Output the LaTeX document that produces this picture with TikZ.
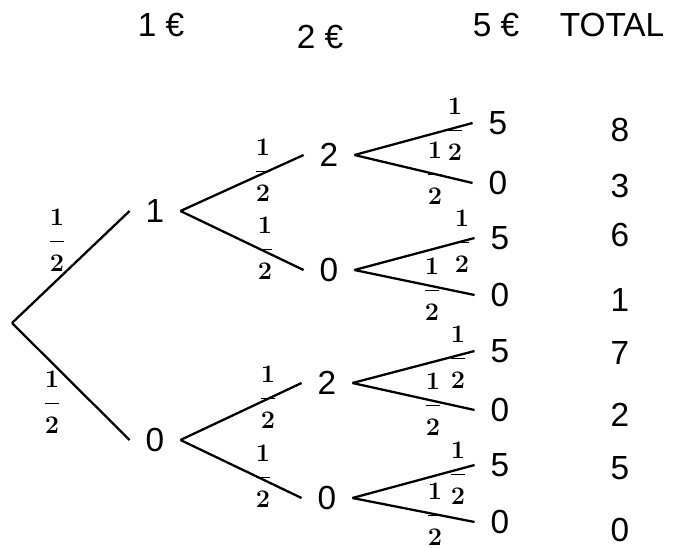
\documentclass[tikz,border=0pt]{standalone}
\usepackage{amsmath}
\usepackage{fontspec}
\setmainfont{Liberation Sans}
\tikzset{
  val/.style={font=\fontsize{19}{22}\selectfont, inner xsep=9pt, inner ysep=2pt},
  head/.style={font=\fontsize{19}{22}\selectfont},
  prob/.style={font=\fontsize{14}{16}\selectfont\boldmath, inner sep=0pt},
  branch/.style={line width=1.3pt}
}
\newcommand{\half}{$\displaystyle\frac{\raisebox{2.3pt}{$1$}}{\raisebox{-2.3pt}{$2$}}$}
\begin{document}
\begin{tikzpicture}[x=0.02cm, y=-0.02cm]
 	\useasboundingbox (0,0) rectangle (681,548);
 	\node[head] (H1) at (161,25) {1 €};
 	\node[head] (H2) at (320,37) {2 €};
 	\node[head] (H5) at (496,25) {5 €};
 	\node[head] (HT) at (612,25) {TOTAL};
 	\coordinate (R) at (12,323);
 	\node[val] (A1) at (155,211) {1};
 	\node[val] (A0) at (155,440) {0};
 	\node[val] (B12) at (329,155) {2};
 	\node[val] (B10) at (329,270) {0};
 	\node[val] (B02) at (327,383) {2};
 	\node[val] (B00) at (327,498) {0};
 	\node[val] (C125) at (498,123) {5};
 	\node[val] (C120) at (498,183) {0};
 	\node[val] (C105) at (500,238) {5};
 	\node[val] (C100) at (500,295) {0};
 	\node[val] (C025) at (500,351) {5};
 	\node[val] (C020) at (500,410) {0};
 	\node[val] (C005) at (500,465) {5};
 	\node[val] (C000) at (500,522) {0};
 	\node[head] (T1) at (620,130) {8};
 	\node[head] (T2) at (620,186) {3};
 	\node[head] (T3) at (620,235) {6};
 	\node[head] (T4) at (620,300) {1};
 	\node[head] (T5) at (620,353) {7};
 	\node[head] (T6) at (620,415) {2};
 	\node[head] (T7) at (620,468) {5};
 	\node[head] (T8) at (620,530) {0};
 	\draw[branch] (R) -- (A1.west);
 	\draw[branch] (R) -- (A0.west);
 	\draw[branch] (A1.east) -- (B12.west);
 	\draw[branch] (A1.east) -- (B10.west);
 	\draw[branch] (A0.east) -- (B02.west);
 	\draw[branch] (A0.east) -- (B00.west);
 	\draw[branch] (B12.east) -- (C125.west);
 	\draw[branch] (B12.east) -- (C120.west);
 	\draw[branch] (B10.east) -- (C105.west);
 	\draw[branch] (B10.east) -- (C100.west);
 	\draw[branch] (B02.east) -- (C025.west);
 	\draw[branch] (B02.east) -- (C020.west);
 	\draw[branch] (B00.east) -- (C005.west);
 	\draw[branch] (B00.east) -- (C000.west);
 	\node[prob] (PA1) at (57,240) {\half};
 	\node[prob] (PA0) at (52,402) {\half};
 	\node[prob] (PB12) at (263,170) {\half};
 	\node[prob] (PB10) at (265,248) {\half};
 	\node[prob] (PB02) at (268,397) {\half};
 	\node[prob] (PB00) at (263,476) {\half};
 	\node[prob] (PC125) at (455,129) {\half};
 	\node[prob] (PC120) at (435,173) {\half};
 	\node[prob] (PC105) at (462,241) {\half};
 	\node[prob] (PC100) at (432,289) {\half};
 	\node[prob] (PC025) at (458,357) {\half};
 	\node[prob] (PC020) at (433,404) {\half};
 	\node[prob] (PC005) at (458,473) {\half};
 	\node[prob] (PC000) at (435,514) {\half};
\end{tikzpicture}
\end{document}
